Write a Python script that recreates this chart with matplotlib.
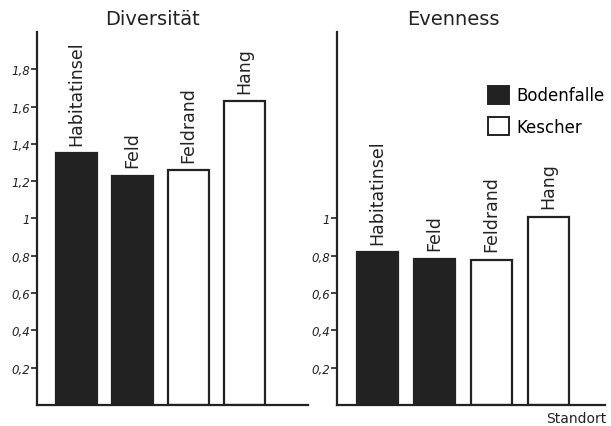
import matplotlib.pyplot as plt
import matplotlib.ticker as ticker
from matplotlib.patches import Patch

standorte = ["Habitatinsel", "Feld", "Feldrand", "Hang"]
methode = ["Bodenfalle", "Bodenfalle", "Kescher", "Kescher"]
diversitaet = [1.35, 1.23, 1.26, 1.63]
evenness = [0.82, 0.785, 0.78, 1.01]
div_ticks = [0.2, 0.4, 0.6, 0.8, 1.0, 1.2, 1.4, 1.6, 1.8]
even_ticks = [0.2, 0.4, 0.6, 0.8, 1.0]

dark = "#222222"
colors = {"Bodenfalle": dark, "Kescher": "white"}


def comma_fmt(v, pos):
    s = "%g" % v
    return s.replace(".", ",")


def draw_panel(ax, values, yticks):
    pos = range(len(values))
    fc = [colors[m] for m in methode]
    ax.bar(pos, values, width=0.72, color=fc, edgecolor=dark, linewidth=1.6)
    for p, v, lab in zip(pos, values, standorte):
        ax.annotate(lab, (p, v), xytext=(0, 6), textcoords="offset points",
                    rotation=90, ha="center", va="bottom", fontsize=12.5, color=dark)
    ax.set_xlim(-0.705, 4.135)
    ax.set_ylim(0, 2.0)
    ax.set_xticks([])
    ax.set_yticks(yticks)
    ax.yaxis.set_major_formatter(ticker.FuncFormatter(comma_fmt))
    ax.tick_params(axis="y", length=4, width=1.2, labelsize=8.5, colors=dark, pad=1)
    for lab in ax.get_yticklabels():
        lab.set_style("italic")
    for s in ["top", "right"]:
        ax.spines[s].set_visible(False)
    for s in ["left", "bottom"]:
        ax.spines[s].set_linewidth(1.6)
        ax.spines[s].set_color(dark)


fig = plt.figure(figsize=(6.11, 4.27), dpi=100)
ax1 = fig.add_axes([0.0606, 0.0492, 0.4435, 0.8735])
ax2 = fig.add_axes([0.5516, 0.0492, 0.4386, 0.8735])

draw_panel(ax1, diversitaet, div_ticks)
draw_panel(ax2, evenness, even_ticks)
ax2.set_xlim(-0.71, 3.99)

fig.text(0.249, 0.955, "Diversität", fontsize=14, ha="center", va="center", color=dark)
fig.text(0.742, 0.955, "Evenness", fontsize=14, ha="center", va="center", color=dark)
fig.text(0.993, 0.018, "Standort", fontsize=10, ha="right", va="center", color=dark)

handles = [Patch(facecolor=dark, edgecolor=dark, linewidth=1.4, label="Bodenfalle"),
           Patch(facecolor="white", edgecolor=dark, linewidth=1.4, label="Kescher")]
fig.legend(handles=handles, loc="upper left", bbox_to_anchor=(0.798, 0.797), frameon=False,
           fontsize=12, handlelength=1.3, handleheight=1.3, handletextpad=0.4,
           labelspacing=0.75, borderpad=0, borderaxespad=0)

plt.savefig("out.png", dpi=100)
